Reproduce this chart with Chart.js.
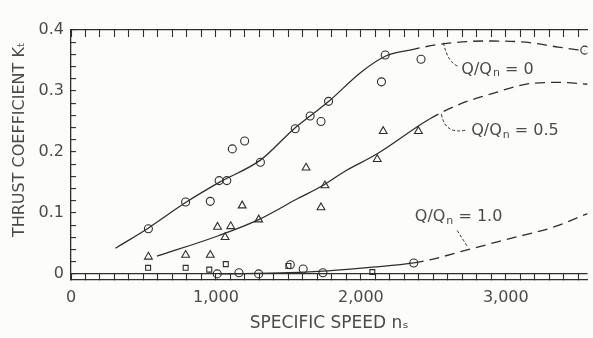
<!DOCTYPE html>
<html lang="en">
<head>
<meta charset="UTF-8">
<title>Thrust coefficient vs specific speed</title>
<script src="https://cdn.jsdelivr.net/npm/chart.js"></script>
<style>
  html, body { margin: 0; padding: 0; background: #fcfcfb; }
</style>
</head>
<body>
<canvas id="kt" width="593" height="338"></canvas>
<script>
// tick labels
const xTicks = [0, 1000, 2000, 3000];
const yTicks = [0, 0.1, 0.2, 0.3, 0.4];

// faired curves: [specific speed, Kt]
const curveQ0 = [[307,0.042],[532,0.075],[791,0.117],[1022,0.150],[1309,0.187],[1534,0.237],[1650,0.259],[1779,0.283],[1997,0.330],[2168,0.357],[2338,0.367],[2556,0.377],[2863,0.382],[3136,0.380],[3361,0.372],[3545,0.366]];
const curveQ05 = [[593,0.029],[1022,0.063],[1295,0.089],[1568,0.124],[1738,0.145],[1888,0.168],[2113,0.197],[2474,0.254],[2679,0.278],[2911,0.296],[3136,0.311],[3361,0.314],[3565,0.311]];
const curveQ10 = [[1022,0.000],[1500,0.002],[1772,0.005],[2079,0.011],[2365,0.018],[2474,0.023],[2774,0.042],[3047,0.059],[3320,0.076],[3565,0.099]];

// where each curve turns from solid to dashed
const dashQ0 = 2338;
const dashQ05 = 2474;
const dashQ10 = 2365;

// test points
const ptsQ0 = [[534,0.074],[791,0.118],[961,0.119],[1022,0.153],[1075,0.153],[1113,0.205],[1198,0.218],[1307,0.183],[1547,0.238],[1650,0.259],[1725,0.250],[1777,0.283],[2142,0.315],[2168,0.359],[2415,0.352],[3545,0.367]];
const ptsQ05 = [[534,0.028],[791,0.031],[961,0.031],[1011,0.077],[1102,0.078],[1063,0.060],[1181,0.112],[1295,0.089],[1622,0.174],[1725,0.109],[1752,0.145],[2113,0.188],[2154,0.234],[2397,0.234]];
const ptsQ10sq = [[532,0.010],[791,0.010],[954,0.007],[1068,0.016],[1500,0.013],[2079,0.003]];
const ptsQ10ci = [[1009,0.000],[1159,0.002],[1295,0.000],[1513,0.015],[1602,0.008],[1738,0.002],[2365,0.018]];

// curve labels: position of the text and its leader line
const labels = [
  { main: 'Q/Q', sub: 'n', tail: ' = 0',   at: [2693, 0.335], leader: [[2570,0.379],[2600,0.345],[2679,0.340]] },
  { main: 'Q/Q', sub: 'n', tail: ' = 0.5', at: [2761, 0.234], leader: [[2556,0.262],[2580,0.228],[2727,0.236]] },
  { main: 'Q/Q', sub: 'n', tail: ' = 1.0', at: [2372, 0.093], leader: [[2665,0.071],[2700,0.058],[2735,0.045]] }
];

const ink = '#2e2e2e';
const textInk = '#4a4a4a';
const fam = '"DejaVu Sans", sans-serif';
const xMax = 3563;

// minor tick positions for the inward tick marks
const xMinor = [];
for (let v = 0; v <= 3500; v += 100) xMinor.push(v);
const yMinor = [];
for (let i = 0; i <= 20; i++) yMinor.push(Math.round(i * 2) / 100);

const toXY = arr => arr.map(p => ({ x: p[0], y: p[1] }));

function curve(data, dashFrom) {
  return {
    data: toXY(data),
    showLine: true,
    pointRadius: 0,
    borderColor: ink,
    borderWidth: 1.3,
    cubicInterpolationMode: 'monotone',
    segment: {
      borderDash: ctx => ctx.p0.parsed.x >= dashFrom ? [10, 6] : undefined
    }
  };
}

function marks(data, style, r) {
  return {
    data: toXY(data),
    showLine: false,
    pointStyle: style,
    pointRadius: r,
    borderColor: ink,
    borderWidth: 1.1,
    backgroundColor: 'rgba(0,0,0,0)'
  };
}

// curve labels with their leader lines
const labelPlugin = {
  id: 'curveLabels',
  afterDraw(chart) {
    const ctx = chart.ctx;
    const sx = chart.scales.x;
    const sy = chart.scales.y;
    ctx.save();
    ctx.fillStyle = textInk;
    ctx.strokeStyle = ink;
    ctx.textBaseline = 'middle';
    ctx.textAlign = 'left';
    labels.forEach(l => {
      let px = sx.getPixelForValue(l.at[0]);
      const py = sy.getPixelForValue(l.at[1]);
      ctx.font = '16px ' + fam;
      ctx.fillText(l.main, px, py);
      px += ctx.measureText(l.main).width + 1;
      ctx.font = '11px ' + fam;
      ctx.fillText(l.sub, px, py + 4);
      px += ctx.measureText(l.sub).width;
      ctx.font = '16px ' + fam;
      ctx.fillText(l.tail, px, py);

      const p = l.leader.map(q => [sx.getPixelForValue(q[0]), sy.getPixelForValue(q[1])]);
      ctx.lineWidth = 1;
      ctx.setLineDash([3, 2]);
      ctx.beginPath();
      ctx.moveTo(p[0][0], p[0][1]);
      ctx.quadraticCurveTo(p[1][0], p[1][1], p[2][0], p[2][1]);
      ctx.stroke();
    });
    ctx.restore();
  }
};

new Chart(document.getElementById('kt'), {
  type: 'scatter',
  data: {
    datasets: [
      marks(ptsQ0, 'circle', 4),
      marks(ptsQ05, 'triangle', 4.5),
      marks(ptsQ10sq, 'rect', 3.5),
      marks(ptsQ10ci, 'circle', 4),
      curve(curveQ0, dashQ0),
      curve(curveQ05, dashQ05),
      curve(curveQ10, dashQ10)
    ]
  },
  options: {
    responsive: false,
    animation: false,
    layout: { padding: { top: 30, right: 0, left: 0, bottom: 0 } },
    plugins: { legend: { display: false }, tooltip: { enabled: false } },
    scales: {
      x: {
        type: 'linear',
        min: 0,
        max: xMax,
        grid: {
          display: true,
          drawOnChartArea: false,
          drawTicks: true,
          tickLength: -6,
          tickColor: ink,
          tickWidth: 1.1
        },
        border: { color: ink, width: 1.3 },
        afterBuildTicks: s => { s.ticks = xMinor.map(v => ({ value: v })); },
        afterFit: s => { s.height = 58; },
        ticks: {
          autoSkip: false,
          maxRotation: 0,
          minRotation: 0,
          maxTicksLimit: 100,
          padding: 14,
          color: textInk,
          font: { family: fam, size: 16 },
          callback: v => xTicks.includes(v) ? v.toLocaleString('en-US') : ''
        },
        title: {
          display: true,
          text: 'SPECIFIC SPEED nₛ',
          color: textInk,
          font: { family: fam, size: 17 },
          padding: { top: 0, bottom: 4 }
        }
      },
      xTop: {
        type: 'linear',
        position: 'top',
        min: 0,
        max: xMax,
        grid: {
          display: true,
          drawOnChartArea: false,
          drawTicks: true,
          tickLength: -7,
          tickColor: ink,
          tickWidth: 1.1
        },
        border: { display: true, color: ink, width: 1.2 },
        afterBuildTicks: s => { s.ticks = xMinor.map(v => ({ value: v })); },
        afterFit: s => { s.height = 0; },
        ticks: { display: false, autoSkip: false, maxTicksLimit: 100 }
      },
      y: {
        min: -0.01,
        max: 0.4,
        grid: {
          display: true,
          drawOnChartArea: true,
          drawTicks: true,
          tickLength: -5,
          tickColor: ink,
          tickWidth: 1.1,
          lineWidth: 1.2,
          color: c => c.tick && c.tick.value === 0 ? ink : 'rgba(0,0,0,0)'
        },
        border: { color: ink, width: 1.3 },
        afterBuildTicks: s => { s.ticks = yMinor.map(v => ({ value: v })); },
        afterFit: s => { s.width = 71; },
        ticks: {
          autoSkip: false,
          maxTicksLimit: 100,
          padding: 12,
          color: textInk,
          font: { family: fam, size: 16 },
          callback: v => {
            const hit = yTicks.find(t => Math.abs(t - v) < 1e-6);
            if (hit === undefined) return '';
            return hit === 0 ? '0' : hit.toFixed(1);
          }
        },
        title: {
          display: true,
          text: '      THRUST COEFFICIENT Kₜ',
          color: textInk,
          font: { family: fam, size: 16 },
          padding: { top: 10, bottom: 0 }
        }
      }
    }
  },
  plugins: [labelPlugin]
});
</script>
</body>
</html>
